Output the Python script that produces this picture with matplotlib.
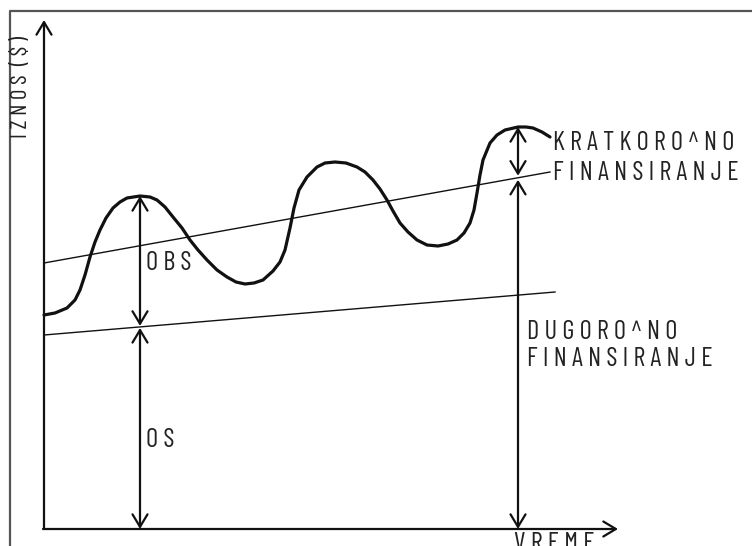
import numpy as np
import matplotlib
matplotlib.use("Agg")
import matplotlib.pyplot as plt

# ---- data (time units, amount units) ----
curve_t = [0, 11, 23, 31, 36, 41, 46, 51, 56, 62, 69, 76, 83, 96, 106, 113, 121, 129,
           138, 146, 154, 163, 173, 183, 192, 201, 210, 219, 229, 236, 241, 246, 250,
           255, 263, 273, 281, 291, 302, 313, 321, 329, 336, 343, 349, 356, 364, 373,
           383, 394, 404, 413, 420, 426, 430, 433, 436, 439, 446, 453, 461, 474, 482,
           489, 498, 506]
curve_a = [213, 215, 220, 228, 238, 253, 271, 286, 298, 310, 320, 326, 330, 332, 331,
           328, 321, 311, 300, 288, 278, 268, 258, 251, 246, 244, 245, 248, 257, 266,
           278, 300, 320, 338, 351, 361, 365, 366, 365, 361, 356, 348, 339, 328, 317,
           305, 296, 288, 283, 282, 284, 288, 295, 305, 318, 335, 353, 368, 385, 393,
           398, 401, 401, 400, 396, 391]

upper_t = [0, 506]      # total requirement trend
upper_a = [265, 356]
lower_t = [0, 511]      # permanent assets trend
lower_a = [193, 236]

mark_t = [96, 474]      # times where requirements are dimensioned

axis_labels = ["I Z N O S  ( $ )", "V R E M E"]
labels = ["K R A T K O R O ^ N O", "F I N A N S I R A N J E", "O B S",
          "D U G O R O ^ N O", "F I N A N S I R A N J E", "O S"]

# ---- figure ----
W, H = 752, 546
fig = plt.figure(figsize=(W / 100, H / 100), dpi=100)
ax = fig.add_axes([0, 0, 1, 1])
ox, oy = 44, 528   # origin in pixels
ax.set_xlim(-ox, W - ox)
ax.set_ylim(oy - H, oy)
ax.axis("off")

ink = "#111111"
fam = ["Barlow Condensed", "Archivo Narrow", "DejaVu Sans"]
tcol = "#222222"
fs = 19

# outer frame (cropped)
ax.plot([-34, -34, W - ox + 5], [oy - H - 5, 517, 517], color="#555555", lw=1.6,
        solid_capstyle="butt", clip_on=False)

# axes with arrows
akw = dict(arrowstyle="->,head_length=0.5,head_width=0.3", lw=1.6, color=ink,
           shrinkA=0, shrinkB=0, mutation_scale=18)
ax.annotate("", xy=(0, 508), xytext=(0, -1), arrowprops=akw)
ax.annotate("", xy=(574, -1), xytext=(-1, -1), arrowprops=akw)

# trend lines
ax.plot(upper_t, upper_a, color=ink, lw=1.0)
ax.plot(lower_t, lower_a, color=ink, lw=1.0)

# wavy requirement curve
ax.plot(curve_t, curve_a, color=ink, lw=2.3, solid_capstyle="round",
        solid_joinstyle="round")

# double arrows
dkw = dict(arrowstyle="<->,head_length=0.5,head_width=0.3", lw=1.6, color=ink,
           shrinkA=0, shrinkB=0, mutation_scale=18)
t1, t2 = mark_t
p1 = np.interp(t1, curve_t, curve_a)
l1 = np.interp(t1, lower_t, lower_a)
ax.annotate("", xy=(t1, p1), xytext=(t1, l1 + 1), arrowprops=dkw)
ax.annotate("", xy=(t1, l1 - 1), xytext=(t1, -1), arrowprops=dkw)
p2 = np.interp(t2, curve_t, curve_a)
u2 = np.interp(t2, upper_t, upper_a)
ax.annotate("", xy=(t2, p2), xytext=(t2, u2 + 2), arrowprops=dkw)
ax.annotate("", xy=(t2, u2 - 2), xytext=(t2, -1), arrowprops=dkw)

# texts (pixel positions converted to data)
def put(s, px, py, size=fs, **kw):
    ax.text(px - ox, oy - py, s, fontsize=size, family=fam, color=tcol,
            weight="normal", **kw)

put(axis_labels[0], 22, 87, size=16.5, rotation=90, ha="center", va="center")
put(axis_labels[1], 514, 551, ha="left", va="baseline")
put(labels[0], 553, 150, ha="left", va="baseline")
put(labels[1], 553, 180, ha="left", va="baseline")
put(labels[2], 146, 270, ha="left", va="baseline")
put(labels[3], 527, 339, ha="left", va="baseline")
put(labels[4], 527, 366, ha="left", va="baseline")
put(labels[5], 146, 447, ha="left", va="baseline")

fig.savefig("out.png", dpi=100)
